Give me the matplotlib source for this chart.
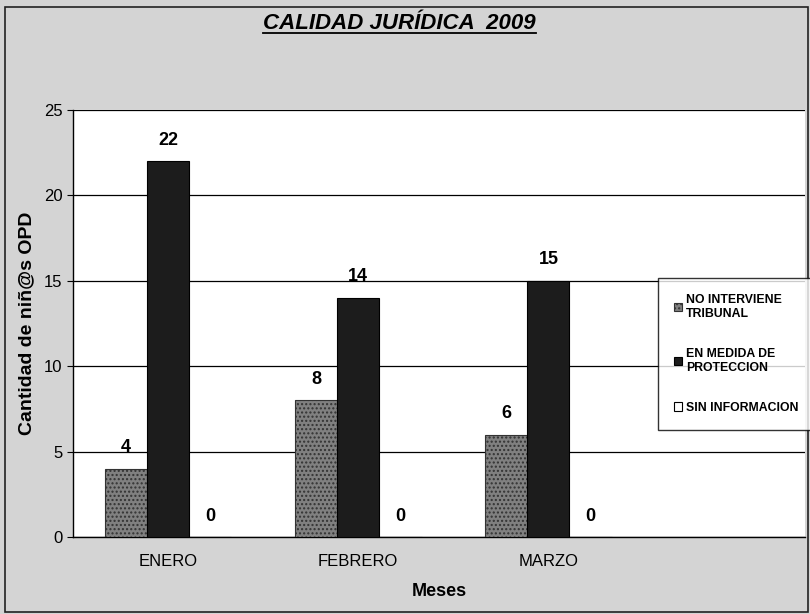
#!/usr/bin/env python3
"""
plot.py: bar chart of legal status per month (CALIDAD JURIDICA 2009).
"""

import numpy as np
import matplotlib
matplotlib.use("Agg")
import matplotlib.pyplot as plt
from matplotlib.patches import Rectangle

plt.rcParams['font.family'] = ['Liberation Sans', 'DejaVu Sans']

meses = ["ENERO", "FEBRERO", "MARZO"]
series = ["NO INTERVIENE\nTRIBUNAL", "EN MEDIDA DE\nPROTECCION", "SIN INFORMACION"]
no_interviene = [4, 8, 6]
en_medida = [22, 14, 15]
sin_info = [0, 0, 0]
yticks = [0, 5, 10, 15, 20, 25]

fig = plt.figure(figsize=(8.1, 6.14), dpi=100)
fig.patch.set_facecolor('#d4d4d4')
fig.patches.append(Rectangle((0.006, 0.004), 0.992, 0.984, transform=fig.transFigure,
                             fill=False, edgecolor='#222222', linewidth=1.2))

ax = fig.add_axes([0.090, 0.1254, 0.904, 0.6954])
ax.set_facecolor('white')

x = np.arange(len(meses))
w = 0.222
styles = [
    dict(color='#808080', edgecolor='#333333', hatch='....'),
    dict(color='#1c1c1c', edgecolor='#000000'),
    dict(color='white', edgecolor='#000000'),
]
handles = []
for i, vals in enumerate([no_interviene, en_medida, sin_info]):
    bars = ax.bar(x + (i - 1) * w, vals, w, linewidth=0.8, label=series[i], zorder=3, **styles[i])
    handles.append(bars)
    for xb, v in zip(x + (i - 1) * w, vals):
        ax.annotate(str(v), (xb, v), xytext=(0, 9), textcoords='offset points',
                    ha='center', va='bottom', fontsize=13, fontweight='bold')

ax.set_xlim(-0.5, 3.35)
ax.set_ylim(0, 25)
ax.set_yticks(yticks)
ax.yaxis.grid(True, color='black', linewidth=0.9)
ax.set_axisbelow(True)
ax.set_xticks(x)
ax.set_xticklabels(meses, fontsize=12)
ax.tick_params(axis='y', labelsize=12, length=4)
ax.tick_params(axis='x', length=0, pad=12)
for s in ['top', 'right']:
    ax.spines[s].set_visible(False)
ax.spines['left'].set_linewidth(1.0)
ax.spines['bottom'].set_linewidth(1.0)

ax.set_ylabel("Cantidad de niñ@s OPD", fontsize=14, fontweight='bold', labelpad=6)
ax.set_xlabel("Meses", fontsize=13, fontweight='bold', labelpad=10)

title = fig.text(0.493, 0.962, "CALIDAD JURÍDICA  2009", ha='center', va='center',
                 fontsize=16, style='italic', fontweight='bold')
fig.canvas.draw()
bb = title.get_window_extent().transformed(fig.transFigure.inverted())
fig.add_artist(plt.Line2D([bb.x0, bb.x1], [bb.y0 + 0.002, bb.y0 + 0.002],
                          transform=fig.transFigure, color='black', linewidth=1.3))

leg = fig.legend(handles=handles, loc='upper left', bbox_to_anchor=(0.812, 0.547),
                 borderaxespad=0, frameon=True, fancybox=False, edgecolor='black',
                 handlelength=0.7, handleheight=0.7, handletextpad=0.3,
                 labelspacing=2.3, borderpad=1.3, prop={'weight': 'bold', 'size': 8.8})
leg.get_frame().set_linewidth(1.0)

fig.savefig("out.png", dpi=100, facecolor=fig.get_facecolor())
